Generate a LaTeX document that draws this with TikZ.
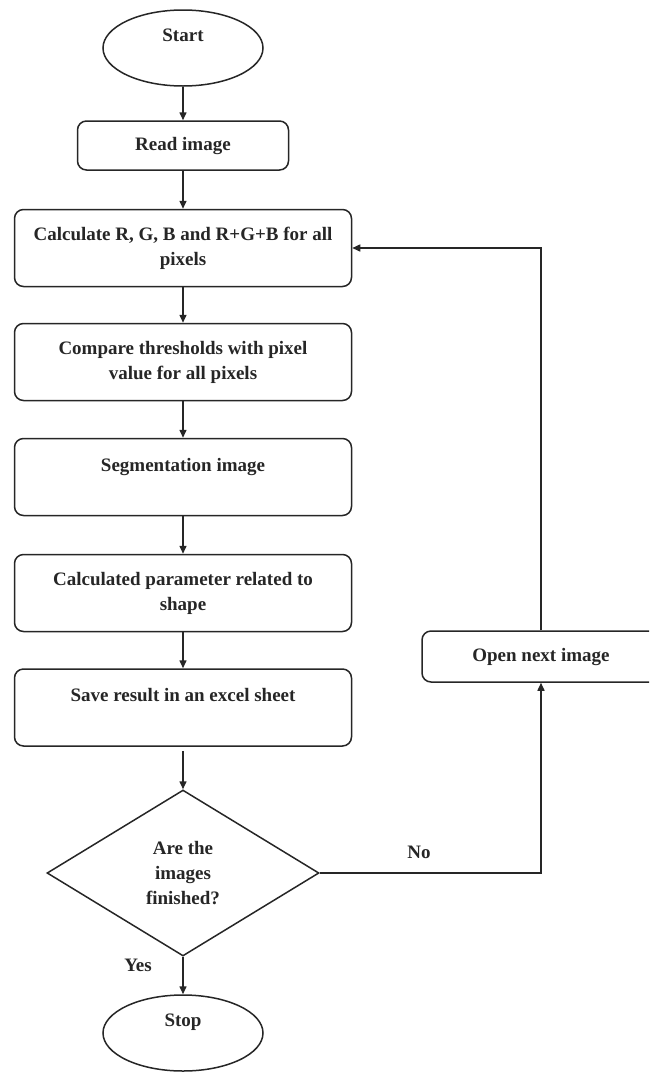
\documentclass[tikz,border=0pt]{standalone}
\usepackage{fontspec}
\setmainfont{Liberation Serif}
\usetikzlibrary{shapes.geometric,arrows.meta}
\begin{document}
\begin{tikzpicture}[x=1pt,y=-1pt,
  font=\bfseries\fontsize{19}{25}\selectfont,
  every node/.style={text=black!85},
  box/.style={draw=black!85, rounded corners=9pt, line width=1.5pt, align=center, inner sep=0pt, minimum width=337pt, minimum height=77pt},
  term/.style={draw=black!85, ellipse, line width=1.5pt, minimum width=160pt, minimum height=76pt, inner sep=0pt, align=center},
  dec/.style={draw=black!85, diamond, line width=1.5pt, minimum width=272pt, minimum height=166pt, inner sep=0pt, align=center},
  arr/.style={-{Triangle[length=8pt,width=7pt]}, line width=1.5pt, draw=black!85},
  lbl/.style={inner sep=0pt}
]
\useasboundingbox (0,0) rectangle (649,1072);
\clip (0,0) rectangle (649,1072);
\node[term] (start) at (183,48) {Start\\\mbox{}};
\node[box, minimum width=211pt, minimum height=49pt] (read) at (183,145.5) {Read image};
\node[box] (calc) at (183,248) {Calculate R, G, B and R+G+B for all\\pixels};
\node[box] (comp) at (183,362) {Compare thresholds with pixel\\value for all pixels};
\node[box] (seg) at (183,477) {Segmentation image\\\mbox{}};
\node[box] (param) at (183,593) {Calculated parameter related to\\shape};
\node[box] (save) at (183,707.5) {Save result in an excel sheet\\\mbox{}};
\node[dec] (dec) at (183,873) {Are the\\images\\finished?};
\node[term] (stop) at (183,1033) {Stop\\\mbox{}};
\node[box, minimum width=238pt, minimum height=51pt] (open) at (541,656.5) {Open next image};
\node[lbl] (yes) at (138,965) {Yes};
\node[lbl] (no) at (419,852) {No};
\draw[arr] (start) -- (read);
\draw[arr] (read) -- (calc);
\draw[arr] (calc) -- (comp);
\draw[arr] (comp) -- (seg);
\draw[arr] (seg) -- (param);
\draw[arr] (param) -- (save);
\draw[arr, shorten <=4pt] (save) -- (dec);
\draw[arr] (dec) -- (stop);
\draw[arr] (dec.east) -| (open.south);
\draw[arr] (open.north) |- (calc.east);
\end{tikzpicture}
\end{document}
